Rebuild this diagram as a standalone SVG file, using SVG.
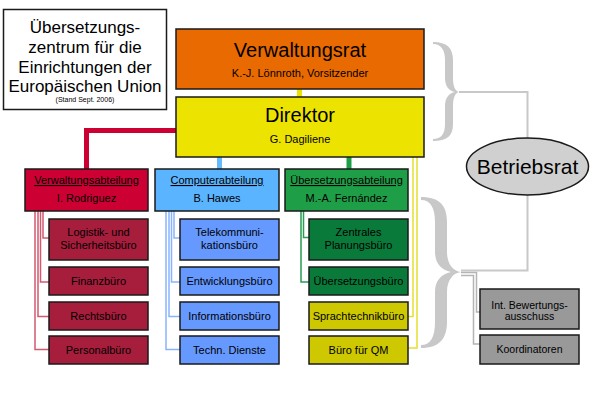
<svg xmlns="http://www.w3.org/2000/svg" width="600" height="400" viewBox="0 0 600 400">
<style>
text { font-family: "Liberation Sans", Arial, sans-serif; fill: #000; text-anchor: middle; }
.box { stroke: #1a1a1a; stroke-width: 1.5; }
.t11 { font-size: 11px; }
.t20 { font-size: 20px; }
.ul { text-decoration: underline; }
.ln { fill: none; stroke-width: 1.5; }
.thick { fill: none; stroke-width: 5; }
.gray { fill: none; stroke: #c8c8c8; stroke-width: 2; }
.brace { fill: #c8c8c8; stroke: none; }
.red1 { fill: #cc0033; } .red2 { fill: #a71d3c; }
.blu1 { fill: #5ab4ff; } .blu2 { fill: #6699ff; }
.grn1 { fill: #1f9e48; } .grn2 { fill: #0a7a3a; }
.yel2 { fill: #cdc800; } .gry { fill: #999999; }
</style>

<g id="connectors">
  <path class="thick" stroke="#ece300" d="M299.5,89 V97"/>
  <path class="thick" stroke="#cc0033" d="M176,130.5 H86.5 V169"/>
  <path class="thick" stroke="#66bbff" d="M219.5,157 V169"/>
  <path class="thick" stroke="#1f9e48" stroke-width="4" d="M349,157 V169"/>
  <!-- red thin -->
  <g class="ln" stroke="#d25a70">
    <path d="M43,211 V238 H49"/>
    <path d="M40.5,211 V282 H49"/>
    <path d="M38,211 V316.5 H49"/>
    <path d="M35,211 V349.5 H49"/>
  </g>
  <g class="ln" stroke="#88b4ff">
    <path d="M174,211 V238 H180"/>
    <path d="M171.5,211 V282 H180"/>
    <path d="M169,211 V316.5 H180"/>
    <path d="M166,211 V349.5 H180"/>
  </g>
  <g class="ln" stroke="#2a9d52">
    <path d="M303.5,211 V237.5 H310"/>
    <path d="M301,211 V282 H309"/>
  </g>
  <g class="ln" stroke="#e6e030">
    <path d="M413,157 V316.5 H408"/>
    <path d="M417,157 V348 H408"/>
  </g>
  <!-- braces -->
  <path class="brace" d="M433,42 C447,42 453,48 453,60 L453,78 C453,86 455,91 459,92 C455,93 453,98 453,106 L453,124 C453,136 447,141 433,141 L433,139 C441,139 445,134 445,124 L445,106 C445,98 449,93 455,92 C449,91 445,86 445,78 L445,60 C445,50 441,44 433,44 Z"/>
  <path class="brace" d="M421,197 C440,197 447,206 447,222 L447,252 C447,264 453,271 461,272 C453,273 447,280 447,292 L447,322 C447,338 440,348 421,348 L421,345 C430,345 435,338 435,322 L435,292 C435,281 441,274 451,272 C441,270 435,263 435,252 L435,222 C435,207 430,200 421,200 Z"/>
  <path class="gray" d="M459,92 H527.5 V138"/>
  <path class="gray" d="M527.5,195 V270.5 H461"/>
  <path class="ln" stroke="#b4b4b4" d="M461,272.5 H476.5 V312 H480"/>
  <path class="ln" stroke="#b4b4b4" d="M461,275.5 H473.5 V344 H480"/>
</g>

<g id="title">
  <rect x="3.5" y="9.5" width="163" height="100" fill="#fff" stroke="#1a1a1a" stroke-width="1.5"/>
  <text x="85" y="33" font-size="17">Übersetzungs-</text>
  <text x="85" y="53" font-size="17">zentrum für die</text>
  <text x="85" y="73" font-size="17">Einrichtungen der</text>
  <text x="85" y="92" font-size="17">Europäischen Union</text>
  <text x="85" y="101.5" font-size="7">(Stand Sept. 2006)</text>
</g>

<g id="verwaltungsrat">
  <rect class="box" x="176" y="29" width="248" height="60" fill="#e86a00"/>
  <text class="t20" x="300" y="57">Verwaltungsrat</text>
  <text class="t11" x="300" y="77">K.-J. Lönnroth, Vorsitzender</text>
</g>
<g id="direktor">
  <rect class="box" x="176" y="97" width="248" height="60" fill="#ece300"/>
  <text class="t20" x="300" y="122">Direktor</text>
  <text class="t11" x="300" y="143">G. Dagiliene</text>
</g>

<g id="verwaltungsabteilung">
  <rect class="box red1" x="25" y="169" width="123" height="42"/>
  <text class="t11 ul" x="86.5" y="184">Verwaltungsabteilung</text>
  <text class="t11" x="86.5" y="202">I. Rodriguez</text>
</g>
<g id="computerabteilung">
  <rect class="box blu1" x="155" y="169" width="124" height="42"/>
  <text class="t11 ul" x="217" y="184">Computerabteilung</text>
  <text class="t11" x="217" y="202">B. Hawes</text>
</g>
<g id="uebersetzungsabteilung">
  <rect class="box grn1" x="285" y="169" width="123" height="42"/>
  <text class="t11 ul" x="346.5" y="184">Übersetzungsabteilung</text>
  <text class="t11" x="346.5" y="202">M.-A. Fernández</text>
</g>

<g id="logistik">
  <rect class="box red2" x="49" y="219" width="99" height="41"/>
  <text class="t11" x="98.5" y="236">Logistik- und</text>
  <text class="t11" x="98.5" y="249">Sicherheitsbüro</text>
</g>
<g id="finanz">
  <rect class="box red2" x="49" y="267" width="99" height="28"/>
  <text class="t11" x="98.5" y="285">Finanzbüro</text>
</g>
<g id="recht">
  <rect class="box red2" x="49" y="302" width="99" height="28"/>
  <text class="t11" x="98.5" y="320">Rechtsbüro</text>
</g>
<g id="personal">
  <rect class="box red2" x="49" y="336" width="99" height="28"/>
  <text class="t11" x="98.5" y="353.5">Personalbüro</text>
</g>

<g id="telekom">
  <rect class="box blu2" x="180" y="219" width="99" height="41"/>
  <text class="t11" x="229.5" y="236">Telekommuni-</text>
  <text class="t11" x="229.5" y="249">kationsbüro</text>
</g>
<g id="entwicklung">
  <rect class="box blu2" x="180" y="267" width="99" height="28"/>
  <text class="t11" x="229.5" y="285">Entwicklungsbüro</text>
</g>
<g id="information">
  <rect class="box blu2" x="180" y="302" width="99" height="28"/>
  <text class="t11" x="229.5" y="320">Informationsbüro</text>
</g>
<g id="technik">
  <rect class="box blu2" x="180" y="336" width="99" height="28"/>
  <text class="t11" x="229.5" y="353.5">Techn. Dienste</text>
</g>

<g id="planung">
  <rect class="box grn2" x="309" y="219" width="99" height="41"/>
  <text class="t11" x="358.5" y="236">Zentrales</text>
  <text class="t11" x="358.5" y="249">Planungsbüro</text>
</g>
<g id="uebersetzungsbuero">
  <rect class="box grn2" x="309" y="267" width="99" height="28"/>
  <text class="t11" x="358.5" y="285">Übersetzungsbüro</text>
</g>
<g id="sprachtechnik">
  <rect class="box yel2" x="309" y="302" width="99" height="28"/>
  <text class="t11" x="358.5" y="320">Sprachtechnikbüro</text>
</g>
<g id="qm">
  <rect class="box yel2" x="309" y="336" width="99" height="28"/>
  <text class="t11" x="358.5" y="353.5">Büro für QM</text>
</g>

<g id="betriebsrat">
  <ellipse cx="527.5" cy="166.5" rx="61" ry="28.5" fill="#d0d0d0" stroke="#1a1a1a" stroke-width="1.5"/>
  <text x="527.5" y="174" font-size="21">Betriebsrat</text>
</g>
<g id="bewertung">
  <rect class="box gry" x="480" y="289" width="99" height="40"/>
  <text x="529.5" y="309" font-size="10.5">Int. Bewertungs-</text>
  <text x="529.5" y="320" font-size="10.5">ausschuss</text>
</g>
<g id="koordinatoren">
  <rect class="box gry" x="480" y="335" width="99" height="29"/>
  <text x="529.5" y="352.5" font-size="10.5">Koordinatoren</text>
</g>
</svg>
